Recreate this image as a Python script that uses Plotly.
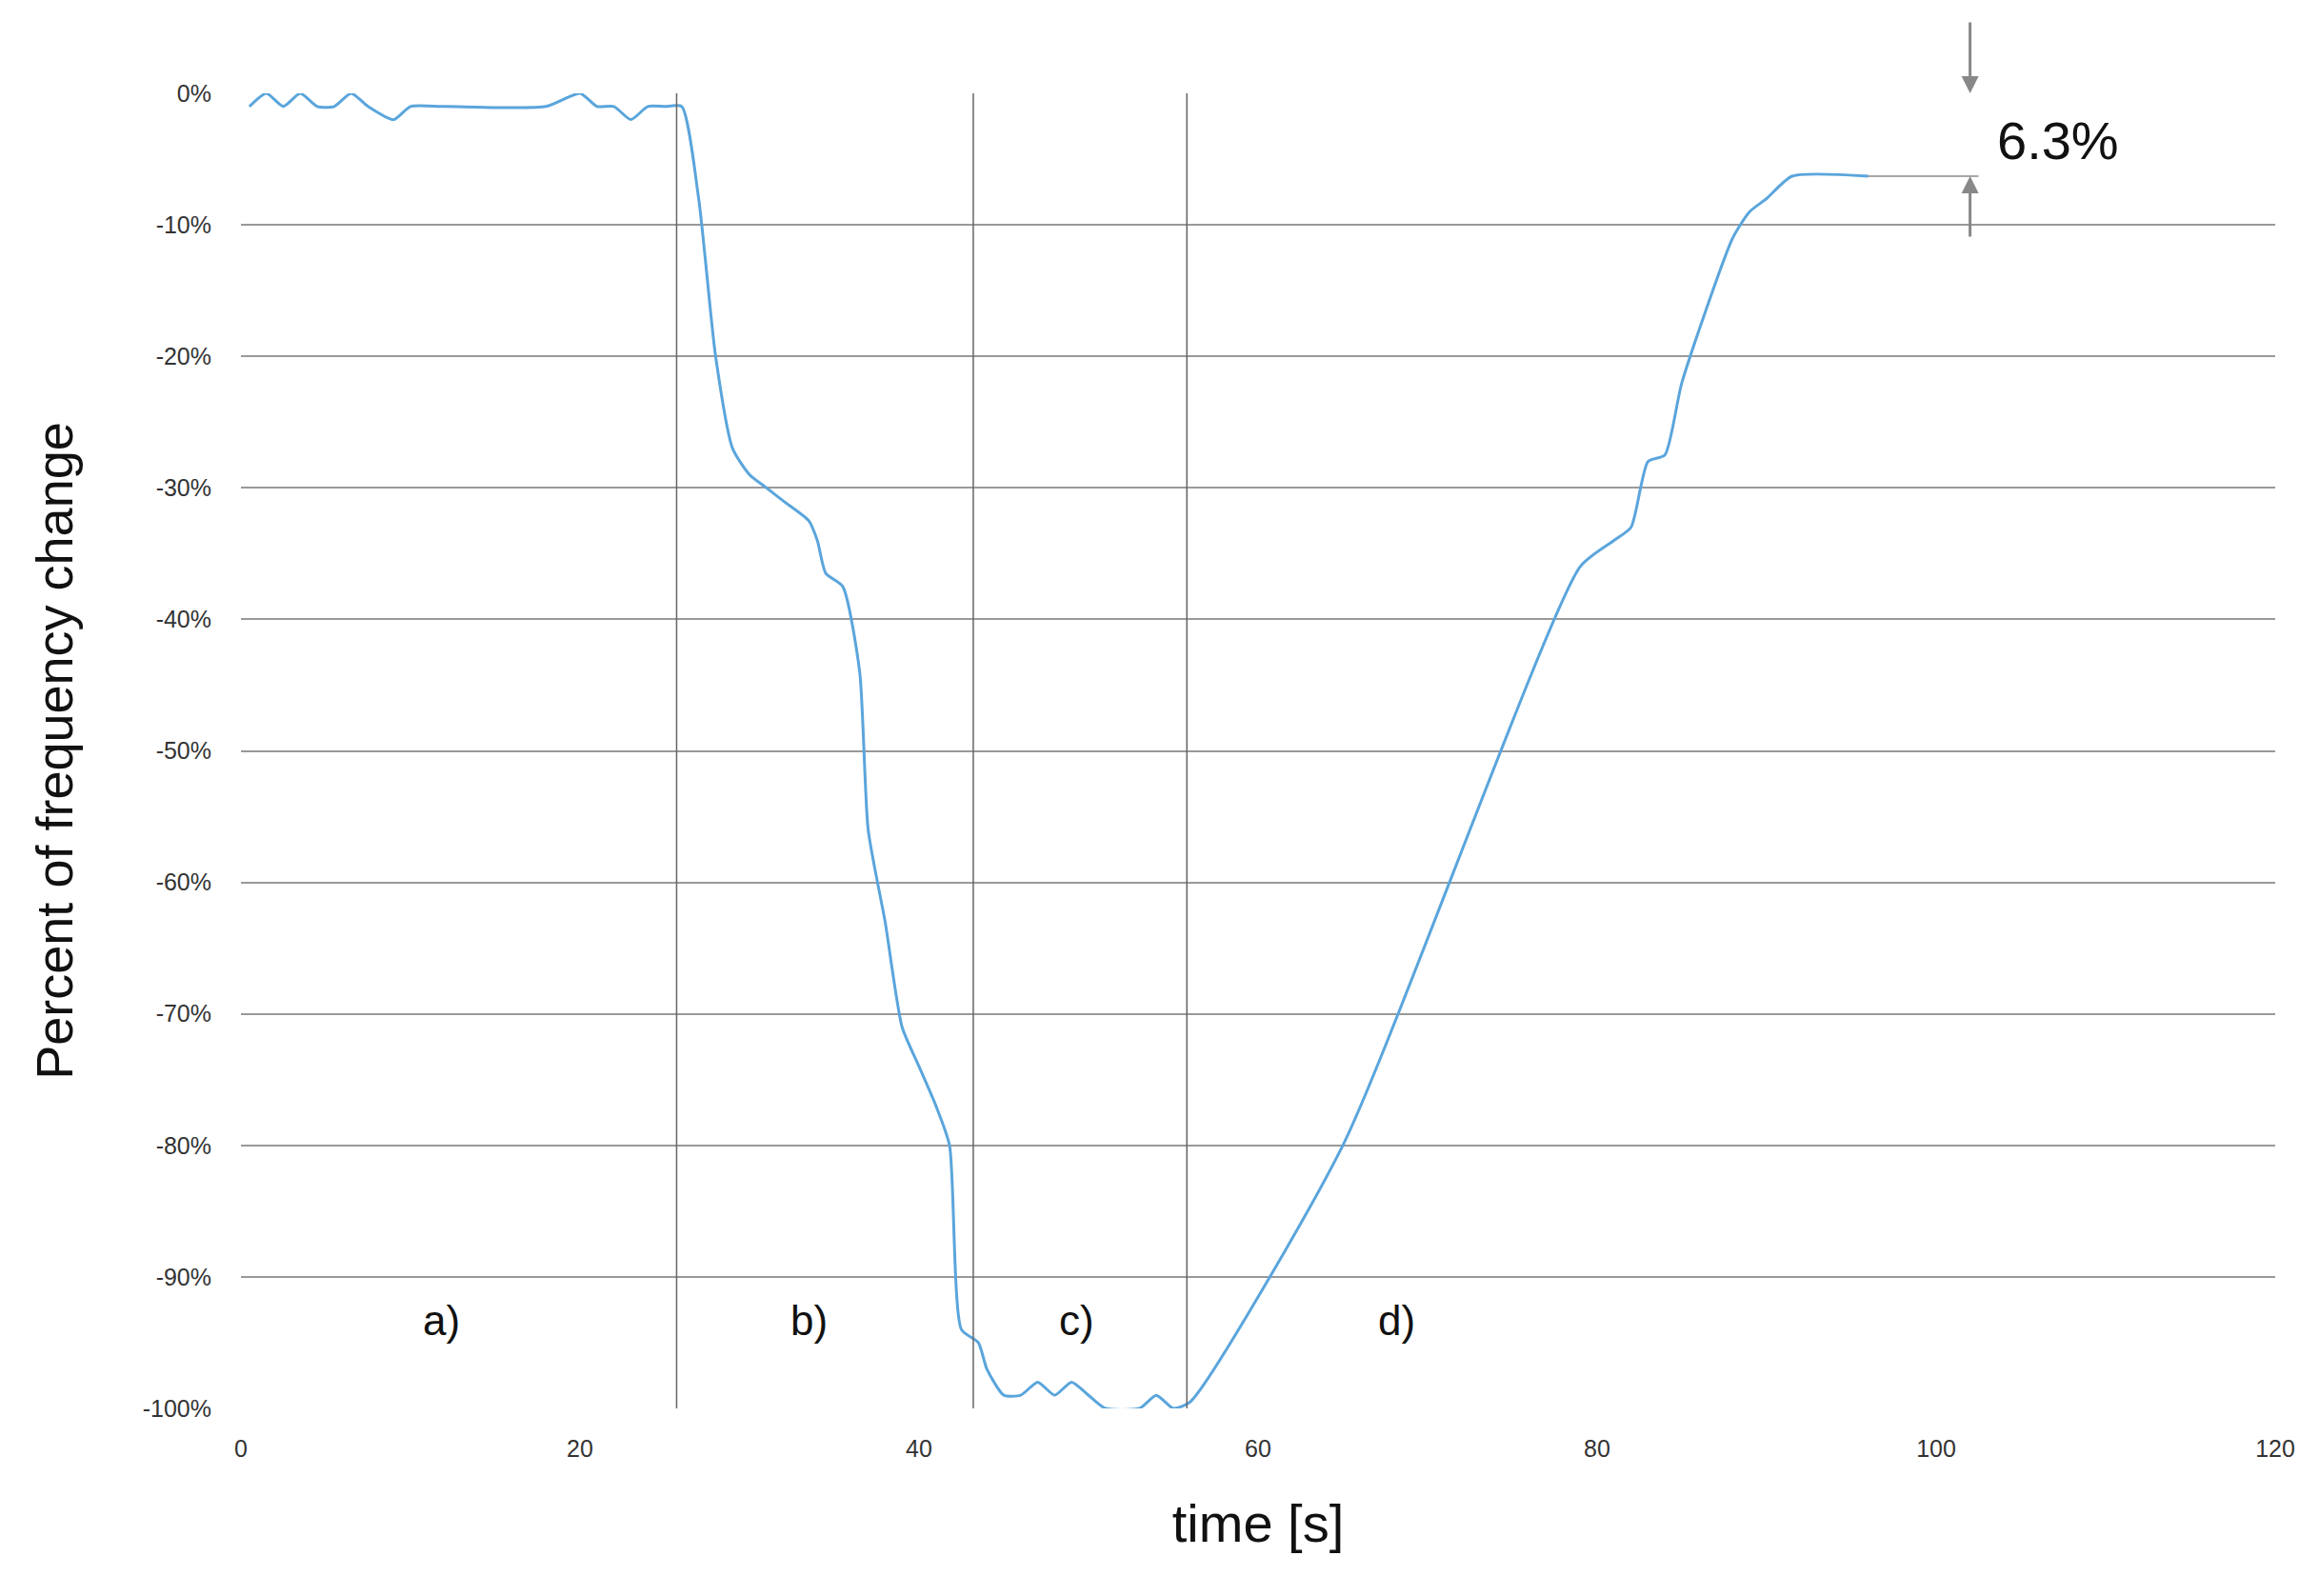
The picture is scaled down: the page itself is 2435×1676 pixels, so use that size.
import plotly.graph_objects as go

t = [0.5,1.5,2.5,3.5,4.5,5.5,6.5,7.5,9,10,12,18,20,21,22,23,24,25,26,27,28,29,30,31,32,33.5,34,34.5,35.5,36.5,37,38,39,40,41,41.8,42.5,43.5,44,45,46,47,48,49,50,51,53,54,55,56,65,79,81,82,83,84,85,88,89,90,91.5,96]
pct = [-1,0,-1,0,-1,-1,0,-1,-2,-1,-1,-1,0,-1,-1,-2,-1,-1,-1,-8,-20,-27,-29,-30,-31,-32.5,-34,-36.5,-37.5,-44,-56,-63,-71,-74,-77,-80,-94,-95,-97,-99,-99,-98,-99,-98,-99,-100,-100,-99,-100,-99.5,-80,-36,-34,-33,-28,-27.5,-22,-11,-9,-8,-6.3,-6.3]
phase_x = [25.7, 43.2, 55.8]
phase_labels = ["a)", "b)", "c)", "d)"]
phase_label_x = [11.8, 33.5, 49.3, 68.2]
y_ticks = [0,-10,-20,-30,-40,-50,-60,-70,-80,-90,-100]
x_ticks = [0,20,40,60,80,100,120]
final_drop = -6.3

fig = go.Figure()
fig.add_trace(go.Scatter(x=t, y=pct, mode="lines", line=dict(color="#5AA5DC", width=3, shape="spline", smoothing=0.6), cliponaxis=False))

for xv in phase_x:
    fig.add_shape(type="line", x0=xv, x1=xv, y0=-100, y1=0, xref="x", yref="y", line=dict(color="#666", width=1.5))
for lab, xv in zip(phase_labels, phase_label_x):
    fig.add_annotation(x=xv, y=-93.3, text=lab, showarrow=False, font=dict(size=44, color="#111"))

fig.add_shape(type="line", x0=96, x1=102.5, y0=final_drop, y1=final_drop, line=dict(color="#888", width=1.5))
fig.add_annotation(x=102, y=0, ax=0, ay=-76, text="", showarrow=True, arrowhead=2, arrowsize=1.2, arrowwidth=3, arrowcolor="#888")
fig.add_annotation(x=102, y=final_drop, ax=0, ay=65, text="", showarrow=True, arrowhead=2, arrowsize=1.2, arrowwidth=3, arrowcolor="#888")
fig.add_annotation(x=103.5, y=-3.6, text="6.3%", showarrow=False, xanchor="left", font=dict(size=56, color="#111"))

fig.update_layout(
    width=2435, height=1676, plot_bgcolor="white", paper_bgcolor="white",
    margin=dict(l=245, r=54, t=90, b=205), showlegend=False,
    font=dict(family="Liberation Sans, Arial", color="#333"),
    xaxis=dict(range=[0,120], tickvals=x_ticks, showgrid=False, zeroline=False, showline=False,
               tickfont=dict(size=25), ticks="", ticklabelstandoff=25,
               title=dict(text="time [s]", font=dict(size=56, color="#111"), standoff=45)),
    yaxis=dict(range=[-100,0], tickvals=y_ticks, ticktext=[f"{v}%" for v in y_ticks],
               showgrid=True, gridcolor="#999", gridwidth=1.5, zeroline=False,
               tickfont=dict(size=25), ticks="", ticklabelstandoff=30,
               title=dict(text="Percent of frequency change", font=dict(size=54, color="#111"), standoff=55)),
)
fig.write_html("out.html")
